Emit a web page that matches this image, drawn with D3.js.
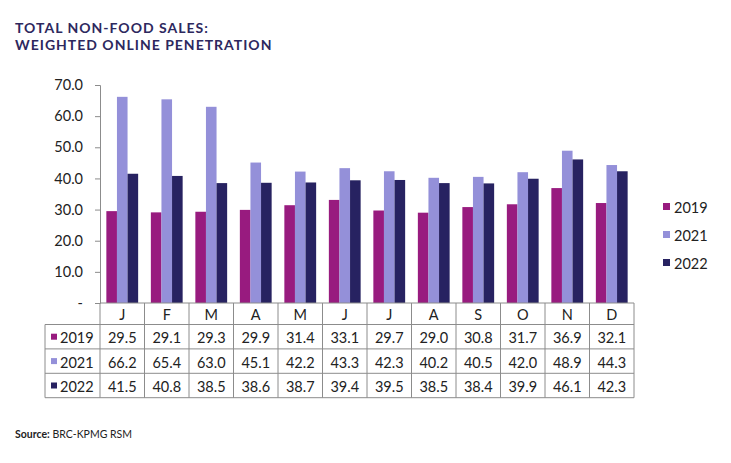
<!DOCTYPE html>
<html>
<head>
<meta charset="utf-8">
<script src="https://cdn.jsdelivr.net/npm/d3@7"></script>
<style>
  body { margin: 0; background: #fff; }
  text { font-family: Lato, "Open Sans", sans-serif; }
</style>
</head>
<body>
<div id="chart"></div>
<script>
// Data
var months = ["J", "F", "M", "A", "M", "J", "J", "A", "S", "O", "N", "D"];
var years = ["2019", "2021", "2022"];
var sales2019 = [29.5, 29.1, 29.3, 29.9, 31.4, 33.1, 29.7, 29.0, 30.8, 31.7, 36.9, 32.1];
var sales2021 = [66.2, 65.4, 63.0, 45.1, 42.2, 43.3, 42.3, 40.2, 40.5, 42.0, 48.9, 44.3];
var sales2022 = [41.5, 40.8, 38.5, 38.6, 38.7, 39.4, 39.5, 38.5, 38.4, 39.9, 46.1, 42.3];
var yTicks = [0, 10, 20, 30, 40, 50, 60, 70];

var series = [sales2019, sales2021, sales2022];
var colors = ["#981b7f", "#9490d9", "#272261"];

var svgWidth = 731;
var svgHeight = 463;

var svg = d3.select("#chart")
  .append("svg")
  .attr("width", svgWidth)
  .attr("height", svgHeight);

// Title
var title = svg.append("text")
  .attr("x", 15)
  .attr("fill", "#2d285e")
  .style("font-size", "14px")
  .style("font-weight", "bold")
  .style("letter-spacing", "1px");
title.append("tspan").attr("x", 15).attr("y", 32.5).text("TOTAL NON-FOOD SALES:");
title.append("tspan").attr("x", 15).attr("y", 50).text("WEIGHTED ONLINE PENETRATION");

// Plot area
var plotLeft = 100, plotRight = 634, plotTop = 85, plotBottom = 303;
var gridColor = "#8c8c8c";

var x = d3.scaleBand()
  .domain(d3.range(months.length))
  .range([plotLeft, plotRight]);

var xInner = d3.scaleBand()
  .domain(d3.range(years.length))
  .range([0, x.bandwidth()])
  .paddingInner(0)
  .paddingOuter(0.6);

var y = d3.scaleLinear()
  .domain([0, 70])
  .range([plotBottom, plotTop]);

// Y axis
var leftAxis = d3.axisLeft(y)
  .tickValues(yTicks)
  .tickSize(5)
  .tickFormat(d => d === 0 ? "-" : d3.format(".1f")(d));

var yAxisG = svg.append("g")
  .attr("transform", `translate(${plotLeft}, 0)`)
  .call(leftAxis);
yAxisG.select(".domain").attr("stroke", gridColor);
yAxisG.selectAll(".tick line").attr("stroke", gridColor);
yAxisG.selectAll(".tick text")
  .attr("x", -17)
  .attr("fill", "#222")
  .style("font-size", "14.5px")
  .style("font-family", "Lato, sans-serif");

// Bars
series.forEach(function(vals, si) {
  svg.append("g").selectAll("rect")
    .data(vals)
    .enter()
    .append("rect")
    .attr("x", (d, i) => x(i) + xInner(si))
    .attr("width", xInner.bandwidth())
    .attr("y", d => y(d))
    .attr("height", d => y(0) - y(d))
    .attr("fill", colors[si]);
});

// Data table
var rowH = 24.4;
var headerBottom = plotBottom + 21.5;
var tableLeft = 45;
var tableBottom = headerBottom + rowH * years.length;
var lines = svg.append("g").attr("stroke", gridColor).attr("stroke-width", 1);

// x axis line
lines.append("line")
  .attr("x1", plotLeft).attr("x2", plotRight)
  .attr("y1", plotBottom).attr("y2", plotBottom);

// vertical category lines
d3.range(months.length + 1).forEach(function(i) {
  var xx = i < months.length ? x(i) : plotRight;
  lines.append("line")
    .attr("x1", xx).attr("x2", xx)
    .attr("y1", plotBottom).attr("y2", tableBottom);
});
lines.append("line")
  .attr("x1", tableLeft).attr("x2", tableLeft)
  .attr("y1", headerBottom).attr("y2", tableBottom);

// horizontal row lines
d3.range(years.length + 1).forEach(function(r) {
  var yy = headerBottom + r * rowH;
  lines.append("line")
    .attr("x1", tableLeft).attr("x2", plotRight)
    .attr("y1", yy).attr("y2", yy);
});

// header labels
svg.append("g").selectAll("text")
  .data(months)
  .enter()
  .append("text")
  .text(d => d)
  .attr("x", (d, i) => x(i) + x.bandwidth() / 2)
  .attr("y", (plotBottom + headerBottom) / 2 + 1)
  .attr("text-anchor", "middle")
  .attr("dominant-baseline", "central")
  .attr("fill", "#222")
  .style("font-size", "14.5px");

// row values
series.forEach(function(vals, si) {
  var cy = headerBottom + si * rowH + rowH / 2 + 1;
  svg.append("g").selectAll("text")
    .data(vals)
    .enter()
    .append("text")
    .text(d => d3.format(".1f")(d))
    .attr("x", (d, i) => x(i) + x.bandwidth() / 2)
    .attr("y", cy)
    .attr("text-anchor", "middle")
    .attr("dominant-baseline", "central")
    .attr("fill", "#222")
    .style("font-size", "14.5px");

  svg.append("rect")
    .attr("x", 51)
    .attr("y", cy - 4)
    .attr("width", 6)
    .attr("height", 6)
    .attr("fill", colors[si]);

  svg.append("text")
    .text(years[si])
    .attr("x", 60)
    .attr("y", cy)
    .attr("dominant-baseline", "central")
    .attr("fill", "#222")
    .style("font-size", "14.5px");
});

// Legend
var legendY = [207, 235, 263];
years.forEach(function(yr, i) {
  svg.append("rect")
    .attr("x", 663)
    .attr("y", legendY[i] - 4)
    .attr("width", 7)
    .attr("height", 7)
    .attr("fill", colors[i]);
  svg.append("text")
    .text(yr)
    .attr("x", 674)
    .attr("y", legendY[i])
    .attr("dominant-baseline", "central")
    .attr("fill", "#222")
    .style("font-size", "14.5px");
});

// Source
var source = svg.append("text")
  .attr("x", 15)
  .attr("y", 438)
  .attr("fill", "#222")
  .style("font-size", "10.5px");
source.append("tspan").style("font-weight", "bold").text("Source:");
source.append("tspan").text(" BRC-KPMG RSM");
</script>
</body>
</html>
